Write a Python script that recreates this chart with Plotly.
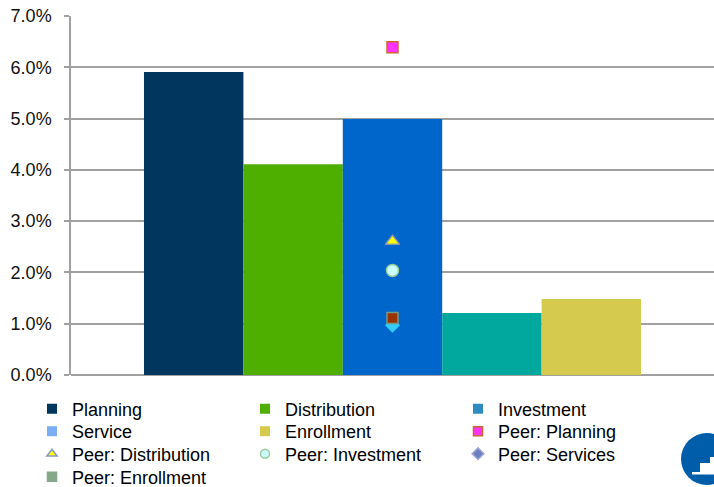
import plotly.graph_objects as go

# ---- data ----
bar_names = ["Planning", "Distribution", "Investment", "Service", "Enrollment"]
bar_values = [0.0591, 0.0411, 0.0499, 0.0121, 0.0148]
bar_colors = ["#01375F", "#4FAF00", "#0066CC", "#00A89E", "#D5CA4E"]
legend_bar_colors = ["#01375F", "#4FAF00", "#2E8BC0", "#7AAEF5", "#D5CA4E"]

peer_names = ["Peer: Planning", "Peer: Distribution", "Peer: Investment", "Peer: Services", "Peer: Enrollment"]
peer_values = [0.0639, 0.0261, 0.0204, 0.0097, 0.0111]
peer_symbols = ["square", "triangle-up", "circle", "diamond", "square"]
peer_fill = ["#FF33FF", "#FFFF00", "#CCFFFF", "#33CCFF", "#993300"]
peer_line = ["#CC6633", "#8899AA", "#99CC99", "#33CCFF", "#779988"]
peer_sizes = [11, 12, 12, 10, 11]
legend_peer_fill = ["#FF33FF", "#FFFF00", "#CCFFFF", "#6E7FC0", "#84A888"]
legend_peer_line = ["#CC6633", "#8899CC", "#99CC99", "#9AA6D8", "#84A888"]

x_pos = [0]
y_ticks = [0, 0.01, 0.02, 0.03, 0.04, 0.05, 0.06, 0.07]

# plot-area pixel geometry
px0, px1, py0, py1 = 71, 714, 16, 375
def xp(p):
    return (p - px0) / (px1 - px0)
def yp(p):
    return (py1 - p) / (py1 - py0)

fig = go.Figure()

for n, v, c in zip(bar_names, bar_values, bar_colors):
    fig.add_trace(go.Bar(x=x_pos, y=[v], name=n, marker=dict(color=c, line=dict(width=0)),
                         showlegend=False, hoverinfo="name+y"))

for n, v, s, f, l, sz in zip(peer_names, peer_values, peer_symbols, peer_fill, peer_line, peer_sizes):
    fig.add_trace(go.Scatter(x=x_pos, y=[v], name=n, mode="markers",
                             marker=dict(symbol=s, size=sz, color=f, line=dict(color=l, width=1.5)),
                             showlegend=False))

# legend entries (as shown in the original legend), 3 per row
legend_ids = ["legend", "legend2", "legend3", "legend4"]
entries = []
for n, c in zip(bar_names, legend_bar_colors):
    entries.append((n, dict(symbol="square", size=10, color=c, line=dict(width=0))))
for n, s, f, l in zip(peer_names, peer_symbols, legend_peer_fill, legend_peer_line):
    entries.append((n, dict(symbol=s, size=9, color=f, line=dict(color=l, width=1.5))))
for i, (n, m) in enumerate(entries):
    fig.add_trace(go.Scatter(x=[None], y=[None], name=n, mode="markers", marker=m,
                             legend=legend_ids[i // 3]))

row_centers = [409, 431.5, 454, 477]
legend_common = dict(orientation="h", x=xp(32), xanchor="left", yanchor="middle",
                     entrywidth=168, entrywidthmode="pixels", itemwidth=30,
                     font=dict(size=18, color="#000000"), tracegroupgap=0,
                     bgcolor="rgba(0,0,0,0)", borderwidth=0)

# decorative corner logo
shapes = [
    dict(type="circle", xref="paper", yref="paper", x0=xp(681), x1=xp(733), y0=yp(485), y1=yp(433),
         fillcolor="#005DAA", line=dict(color="#005DAA", width=0)),
    dict(type="rect", xref="paper", yref="paper", x0=xp(692), x1=xp(700), y0=yp(474.5), y1=yp(472),
         fillcolor="white", line=dict(width=0)),
    dict(type="rect", xref="paper", yref="paper", x0=xp(700), x1=xp(710), y0=yp(474.5), y1=yp(463),
         fillcolor="white", line=dict(width=0)),
    dict(type="rect", xref="paper", yref="paper", x0=xp(710), x1=xp(714), y0=yp(474.5), y1=yp(457),
         fillcolor="white", line=dict(width=0)),
]

layout_legends = {}
for lid, yc in zip(legend_ids, row_centers):
    layout_legends[lid] = dict(legend_common, y=yp(yc))

fig.update_layout(
    width=714, height=487,
    margin=dict(l=71, r=0, t=16, b=112, autoexpand=False),
    paper_bgcolor="white", plot_bgcolor="white",
    barmode="group", bargap=0.227, bargroupgap=0,
    font=dict(family="Liberation Sans, Arial, sans-serif", size=18, color="#000000"),
    showlegend=True,
    xaxis=dict(range=[-0.5, 0.5], showticklabels=False, showgrid=False, zeroline=False,
               showline=False, ticks=""),
    yaxis=dict(range=[0, 0.07], tickvals=y_ticks, tickformat=".1%", showgrid=True,
               gridcolor="#A0A0A0", gridwidth=1.5, zeroline=True, zerolinecolor="#A0A0A0",
               zerolinewidth=1.5, showline=True, linecolor="#A0A0A0", linewidth=1.5,
               ticks="outside", ticklen=5, tickcolor="#A0A0A0", tickwidth=1.5,
               ticklabelstandoff=9,
               tickfont=dict(size=18, color="#111111")),
    shapes=shapes,
    **layout_legends,
)

fig.write_html("out.html")
